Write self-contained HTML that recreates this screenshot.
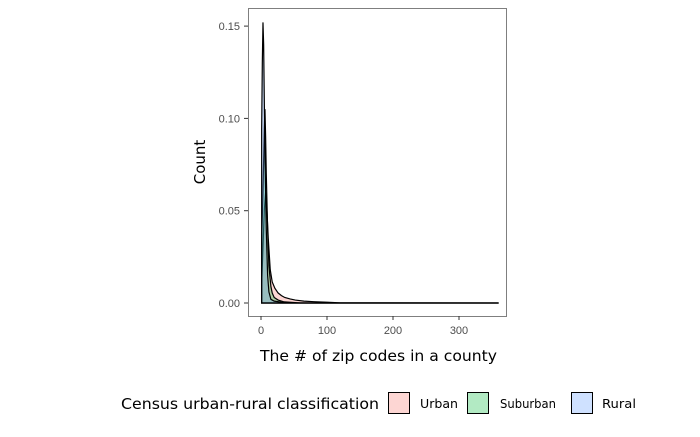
<!DOCTYPE html>
<html><head><meta charset="utf-8"><style>
body{margin:0;background:#fff;font-family:"Liberation Sans",sans-serif}
.dv{font-family:"DejaVu Sans","Liberation Sans",sans-serif}
</style></head><body>
<svg id="c" width="700" height="432" xmlns="http://www.w3.org/2000/svg">
<rect x="248.5" y="8.5" width="258" height="308" fill="#fff" stroke="#7f7f7f"/>
<g id="marks"></g>
<g id="axes" font-size="11" fill="#4d4d4d"></g>
<text class="dv" x="260" y="361" font-size="15" textLength="237" lengthAdjust="spacingAndGlyphs" fill="#000">The # of zip codes in a county</text>
<text class="dv" transform="translate(205,162) rotate(-90)" text-anchor="middle" font-size="15" fill="#000">Count</text>
<g>
<text class="dv" x="121" y="409" font-size="15" textLength="258" lengthAdjust="spacingAndGlyphs" fill="#000">Census urban-rural classification</text>
<g><rect x="388.5" y="392.5" width="21" height="21" fill="rgba(248,118,109,0.3)" stroke="#000"/><text class="dv" x="420" y="408" font-size="12" textLength="38" lengthAdjust="spacingAndGlyphs">Urban</text></g>
<g><rect x="467.5" y="392.5" width="21" height="21" fill="rgba(0,186,56,0.3)" stroke="#000"/><text class="dv" x="500" y="408" font-size="12" textLength="56" lengthAdjust="spacingAndGlyphs">Suburban</text></g>
<g><rect x="571.5" y="392.5" width="21" height="21" fill="rgba(97,156,255,0.3)" stroke="#000"/><text class="dv" x="602" y="408" font-size="12" textLength="34" lengthAdjust="spacingAndGlyphs">Rural</text></g>
</g>
</svg>
<script>
const xTicks=[0,100,200,300];
const yTicks=[0,0.05,0.10,0.15];
const yTickLabels=["0.00","0.05","0.10","0.15"];
const urbanX=[1,3,5,7,9,11,14,17,21,26,31,36,44,52,65,80,100,120,360];
const urbanY=[0.01,0.03,0.05,0.06,0.05,0.035,0.018,0.0114,0.008,0.0054,0.004,0.003,0.0022,0.0016,0.001,0.0007,0.0004,0.0001,0];
const suburbanX=[1,3,5,6,7,8,10,12,15,17,20,26,35,60,100,360];
const suburbanY=[0.034,0.06,0.095,0.105,0.09,0.07,0.04,0.02,0.009,0.0054,0.003,0.0016,0.0006,0,0,0];
const ruralX=[1,2,3,4,5,6,8,10,12,15,20,30,50,100,360];
const ruralY=[0.094,0.13,0.152,0.14,0.11,0.08,0.04,0.015,0.006,0.002,0.001,0.0005,0,0,0];
const sx=v=>261+v*0.66;
const sy=v=>303-v*1846;
const NS="http://www.w3.org/2000/svg";
const marks=document.getElementById('marks'),axes=document.getElementById('axes');
function series(xs,ys,fill,name){
  let d=`M${sx(xs[0])},${sy(0)}`;
  xs.forEach((x,i)=>d+=`L${sx(x)},${sy(ys[i])}`);
  d+=`L${sx(xs[xs.length-1])},${sy(0)}Z`;
  const p=document.createElementNS(NS,'path');
  p.setAttribute('d',d);p.setAttribute('fill',fill);p.setAttribute('stroke','#000');p.setAttribute('stroke-width','1.2');
  
  
  marks.appendChild(p);
}
series(urbanX,urbanY,'rgba(248,118,109,0.3)','density-urban');
series(suburbanX,suburbanY,'rgba(0,186,56,0.3)','density-suburban');
series(ruralX,ruralY,'rgba(97,156,255,0.3)','density-rural');
xTicks.forEach(t=>{
  const l=document.createElementNS(NS,'line');
  l.setAttribute('x1',sx(t));l.setAttribute('x2',sx(t));l.setAttribute('y1',316);l.setAttribute('y2',320);l.setAttribute('stroke','#333');
  
  
  axes.appendChild(l);
  const tx=document.createElementNS(NS,'text');
  tx.setAttribute('x',sx(t));tx.setAttribute('y',334);tx.setAttribute('text-anchor','middle');tx.textContent=t;
  
  
  axes.appendChild(tx);
});
yTicks.forEach((t,i)=>{
  const l=document.createElementNS(NS,'line');
  l.setAttribute('x1',244);l.setAttribute('x2',248);l.setAttribute('y1',sy(t));l.setAttribute('y2',sy(t));l.setAttribute('stroke','#333');
  
  
  axes.appendChild(l);
  const tx=document.createElementNS(NS,'text');
  tx.setAttribute('x',240);tx.setAttribute('y',sy(t)+4);tx.setAttribute('text-anchor','end');tx.textContent=yTickLabels[i];
  
  
  axes.appendChild(tx);
});
</script>
</body></html>
